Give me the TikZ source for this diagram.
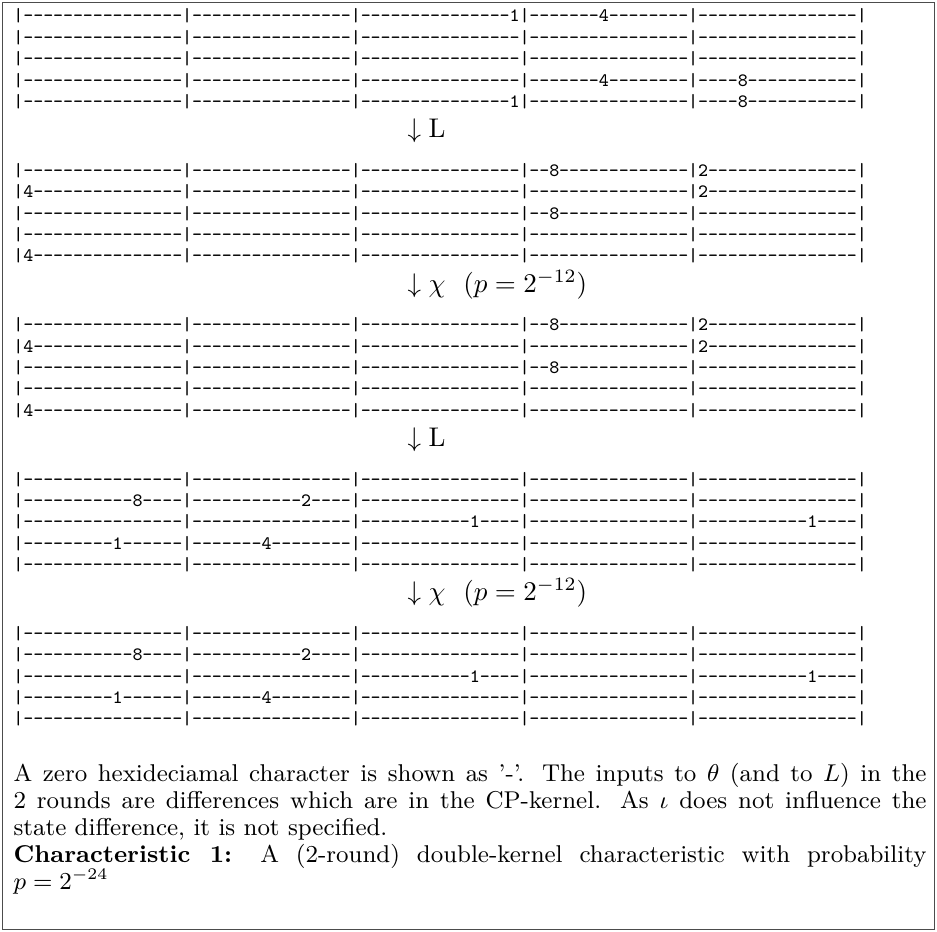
\documentclass[tikz,border=0pt]{standalone}
\newcommand\hxc[1]{\makebox[3.675pt]{#1}}
\newcommand\hxseg[2]{\hxc{|}\foreach \k in {1,...,16}{\ifnum\k=#1\relax\hxc{#2}\else\hxc{-}\fi}}
\newcommand\hxz{\hxseg{0}{}}
\newcommand\hxend{\hxc{|}}
\newcommand\hxrow[4]{\node[hexrow] (#1) at (13,{22+(#2-1)*154.35+(#3-1)*21.35}) {#4\hxend};}
\newcommand\hxlbl[3]{\node[steplbl] (#1) at (407,{137.7+(#2-1)*154.35}) {#3};}
\tikzset{
  hexrow/.style={anchor=base west, inner sep=0pt, font=\fontsize{7}{8}\ttfamily},
  steplbl/.style={anchor=base west, inner sep=0pt, font=\fontsize{10}{12}\selectfont},
  note/.style={anchor=base west, inner sep=0pt, font=\fontsize{9}{10.8}\selectfont},
  outerframe/.style={draw=black!70, line width=0.55pt}
}
\begin{document}
\begin{tikzpicture}[x=0.37037pt, y=-0.37037pt]
\useasboundingbox (0,0) rectangle (937,932);
\draw[outerframe] (2.5,2.5) rectangle (934.5,929.5);
% block 1
\hxrow{b1r1}{1}{1}{\hxz\hxz\hxseg{16}{1}\hxseg{8}{4}\hxz}
\hxrow{b1r2}{1}{2}{\hxz\hxz\hxz\hxz\hxz}
\hxrow{b1r3}{1}{3}{\hxz\hxz\hxz\hxz\hxz}
\hxrow{b1r4}{1}{4}{\hxz\hxz\hxz\hxseg{8}{4}\hxseg{5}{8}}
\hxrow{b1r5}{1}{5}{\hxz\hxz\hxseg{16}{1}\hxz\hxseg{5}{8}}
\hxlbl{l1}{1}{$\downarrow \mathrm{L}$}
% block 2
\hxrow{b2r1}{2}{1}{\hxz\hxz\hxz\hxseg{3}{8}\hxseg{1}{2}}
\hxrow{b2r2}{2}{2}{\hxseg{1}{4}\hxz\hxz\hxz\hxseg{1}{2}}
\hxrow{b2r3}{2}{3}{\hxz\hxz\hxz\hxseg{3}{8}\hxz}
\hxrow{b2r4}{2}{4}{\hxz\hxz\hxz\hxz\hxz}
\hxrow{b2r5}{2}{5}{\hxseg{1}{4}\hxz\hxz\hxz\hxz}
\hxlbl{l2}{2}{$\downarrow \chi\ \ (p=2^{-12})$}
% block 3
\hxrow{b3r1}{3}{1}{\hxz\hxz\hxz\hxseg{3}{8}\hxseg{1}{2}}
\hxrow{b3r2}{3}{2}{\hxseg{1}{4}\hxz\hxz\hxz\hxseg{1}{2}}
\hxrow{b3r3}{3}{3}{\hxz\hxz\hxz\hxseg{3}{8}\hxz}
\hxrow{b3r4}{3}{4}{\hxz\hxz\hxz\hxz\hxz}
\hxrow{b3r5}{3}{5}{\hxseg{1}{4}\hxz\hxz\hxz\hxz}
\hxlbl{l3}{3}{$\downarrow \mathrm{L}$}
% block 4
\hxrow{b4r1}{4}{1}{\hxz\hxz\hxz\hxz\hxz}
\hxrow{b4r2}{4}{2}{\hxseg{12}{8}\hxseg{12}{2}\hxz\hxz\hxz}
\hxrow{b4r3}{4}{3}{\hxz\hxz\hxseg{12}{1}\hxz\hxseg{12}{1}}
\hxrow{b4r4}{4}{4}{\hxseg{10}{1}\hxseg{8}{4}\hxz\hxz\hxz}
\hxrow{b4r5}{4}{5}{\hxz\hxz\hxz\hxz\hxz}
\hxlbl{l4}{4}{$\downarrow \chi\ \ (p=2^{-12})$}
% block 5
\hxrow{b5r1}{5}{1}{\hxz\hxz\hxz\hxz\hxz}
\hxrow{b5r2}{5}{2}{\hxseg{12}{8}\hxseg{12}{2}\hxz\hxz\hxz}
\hxrow{b5r3}{5}{3}{\hxz\hxz\hxseg{12}{1}\hxz\hxseg{12}{1}}
\hxrow{b5r4}{5}{4}{\hxseg{10}{1}\hxseg{8}{4}\hxz\hxz\hxz}
\hxrow{b5r5}{5}{5}{\hxz\hxz\hxz\hxz\hxz}
% notes
\node[note] (t1) at (13,782) {\makebox[338.15pt][s]{A zero hexideciamal character is shown as '-'. The inputs to $\theta$ (and to $L$) in the}};
\node[note] (t2) at (13,809) {\makebox[338.15pt][s]{2 rounds are differences which are in the CP-kernel. As $\iota$ does not influence the}};
\node[note] (t3) at (13,836) {state difference, it is not specified.};
\node[note] (t4) at (13,863) {\makebox[338.15pt][s]{\textbf{Characteristic 1:} A (2-round) double-kernel characteristic with probability}};
\node[note] (t5) at (13,890) {$p=2^{-24}$};
\end{tikzpicture}
\end{document}
